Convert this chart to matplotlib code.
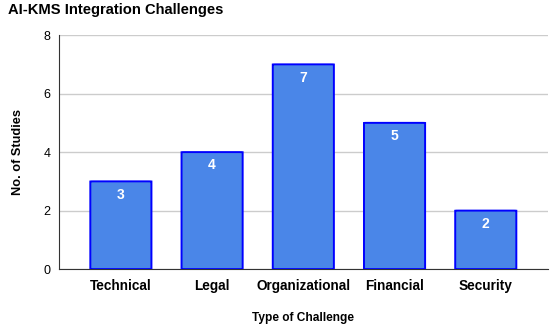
import matplotlib.pyplot as plt
from matplotlib.patches import FancyBboxPatch

categories = ["Technical", "Legal", "Organizational", "Financial", "Security"]
studies = [3, 4, 7, 5, 2]

plt.rcParams["font.family"] = ["Liberation Sans", "DejaVu Sans"]

fig = plt.figure(figsize=(5.5, 3.25), dpi=100)
ax = fig.add_axes([0.107, 0.172, 0.889, 0.72])

bars = ax.bar(range(len(categories)), studies, width=0.67, color="none", edgecolor="none")
for b, v in zip(bars, studies):
    x, y = b.get_x(), b.get_y()
    w, h = b.get_width(), b.get_height()
    p = FancyBboxPatch((x, y), w, h, boxstyle="round,pad=0,rounding_size=0.04",
                       mutation_aspect=1 / 9, facecolor="#4a86e8",
                       edgecolor="#0000ff", linewidth=1.4, zorder=3)
    ax.add_patch(p)
    ax.text(x + w / 2, v - 0.45, str(v), ha="center", va="center",
            color="white", fontsize=10, fontweight="bold", zorder=4)

ax.set_xlim(-0.68, 4.68)
ax.set_ylim(0, 8)
ax.set_yticks([0, 2, 4, 6, 8])
ax.set_xticks(range(len(categories)))
ax.set_xticklabels(categories, fontsize=9.8, fontweight="bold")
ax.tick_params(axis="y", labelsize=9, length=0, pad=6)
ax.tick_params(axis="x", length=0, pad=7)
ax.grid(axis="y", color="#cccccc", linewidth=1)
ax.set_axisbelow(True)
for s in ["top", "right"]:
    ax.spines[s].set_visible(False)
ax.spines["left"].set_color("#333333")
ax.spines["bottom"].set_color("#333333")

ax.set_xlabel("Type of Challenge", fontsize=8.6, fontweight="bold", labelpad=14)
ax.set_ylabel("No. of Studies", fontsize=9.2, fontweight="bold", labelpad=14)
fig.text(0.015, 0.968, "AI-KMS Integration Challenges", fontsize=10.6,
         fontweight="bold", va="center", ha="left")

fig.savefig("out.png", dpi=100)
